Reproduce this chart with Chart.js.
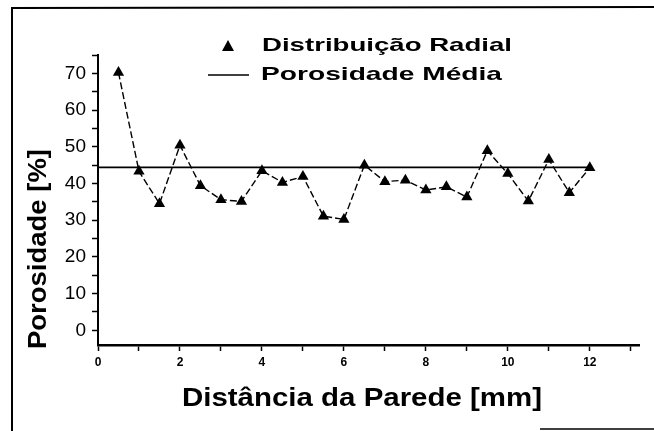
<!DOCTYPE html>
<html>
<head>
<meta charset="utf-8">
<script src="https://cdn.jsdelivr.net/npm/chart.js@4.4.0/dist/chart.umd.min.js"></script>
<style>
  html, body { margin: 0; padding: 0; background: #fff; }
  #wrap { width: 654px; height: 431px; position: relative; }
</style>
</head>
<body>
<div id="wrap"><canvas id="porosidadeChart" width="654" height="431"></canvas></div>
<script>
// distancia da parede [mm]
const distancias = [0.5, 1, 1.5, 2, 2.5, 3, 3.5, 4, 4.5, 5, 5.5, 6,
  6.5, 7, 7.5, 8, 8.5, 9, 9.5, 10, 10.5, 11, 11.5, 12];
// porosidade radial [%]
const porosidade = [70.2, 43.3, 34.5, 50.4, 39.4, 35.6, 35.1, 43.5, 40.3, 41.9, 31.1, 30.2,
  45.0, 40.5, 40.9, 38.2, 39.1, 36.3, 48.9, 42.7, 35.2, 46.5, 37.5, 44.3];
// porosidade media e extensao da linha
const porosidadeMedia = 44.4;
const mediaX = [0, 12];

const labelSerie = "Distribuição Radial";
const labelMedia = "Porosidade Média";
const tituloX = "Distância da Parede [mm]";
const tituloY = "Porosidade [%]";

const FONT = "'Liberation Sans', Arial, sans-serif";
const NARROW = "'Liberation Sans Narrow', 'Liberation Sans', Arial, sans-serif";

// draws text stretched horizontally to a given width
function fitText(ctx, text, x, y, width, font, align) {
  ctx.save();
  ctx.font = font;
  const w = ctx.measureText(text).width;
  const sx = width / w;
  ctx.translate(x, y);
  ctx.scale(sx, 1);
  ctx.textAlign = align || "left";
  ctx.textBaseline = "middle";
  ctx.fillText(text, 0, 0);
  ctx.restore();
}

const extras = {
  id: "extras",
  afterDraw(chart) {
    const ctx = chart.ctx;
    ctx.save();
    ctx.fillStyle = "#000";
    ctx.strokeStyle = "#000";

    // scanned frame
    ctx.lineWidth = 2;
    ctx.beginPath();
    ctx.moveTo(12, 431);
    ctx.lineTo(12, 8);
    ctx.lineTo(654, 7);
    ctx.stroke();
    ctx.lineWidth = 1.5;
    ctx.beginPath();
    ctx.moveTo(540, 429);
    ctx.lineTo(654, 429);
    ctx.stroke();

    // legend
    ctx.beginPath();
    ctx.moveTo(228, 40);
    ctx.lineTo(234, 51);
    ctx.lineTo(222, 51);
    ctx.closePath();
    ctx.fill();
    fitText(ctx, labelSerie, 262, 46, 250, "bold 19px " + FONT);
    ctx.lineWidth = 1.5;
    ctx.beginPath();
    ctx.moveTo(208, 75);
    ctx.lineTo(249, 75);
    ctx.stroke();
    fitText(ctx, labelMedia, 261, 75, 241, "bold 19px " + FONT);

    // axis titles
    fitText(ctx, tituloX, 362, 399, 360, "bold 25px " + FONT, "center");
    ctx.save();
    ctx.translate(39, 249);
    ctx.rotate(-Math.PI / 2);
    fitText(ctx, tituloY, 0, 0, 200, "bold 25px " + FONT, "center");
    ctx.restore();

    ctx.restore();
  },
};

const ctx = document.getElementById("porosidadeChart").getContext("2d");

const chart = new Chart(ctx, {
  type: "scatter",
  data: {
    datasets: [
      {
        label: labelMedia,
        data: mediaX.map((x) => ({ x: x, y: porosidadeMedia })),
        showLine: true,
        borderColor: "#000",
        borderWidth: 1.8,
        pointRadius: 0,
      },
      {
        label: labelSerie,
        data: distancias.map((x, i) => ({ x: x, y: porosidade[i] })),
        showLine: true,
        borderColor: "#000",
        borderWidth: 1.4,
        borderDash: [7, 3],
        pointStyle: "triangle",
        pointRadius: 6.5,
        pointBackgroundColor: "#000",
        pointBorderColor: "#000",
        pointBorderWidth: 0,
      },
    ],
  },
  options: {
    responsive: false,
    animation: false,
    layout: { padding: { left: 0, top: 55, right: 15, bottom: 0 } },
    plugins: {
      legend: { display: false },
      tooltip: { enabled: false },
    },
    scales: {
      x: {
        type: "linear",
        min: 0,
        max: 13.2,
        afterFit: (scale) => {
          scale.height = 86;
        },
        ticks: {
          stepSize: 1,
          includeBounds: false,
          autoSkip: false,
          maxRotation: 0,
          padding: 4,
          color: "#000",
          font: { family: FONT, size: 12, weight: "bold" },
          callback: (v) => (v % 2 === 0 ? String(v) : ""),
        },
        grid: {
          drawOnChartArea: false,
          drawTicks: true,
          tickLength: 6,
          tickColor: "#000",
          tickWidth: 1.5,
        },
        border: { display: true, color: "#000", width: 2.5 },
      },
      y: {
        type: "linear",
        min: -4,
        max: 75,
        afterFit: (scale) => {
          scale.width = 98;
        },
        ticks: {
          stepSize: 5,
          includeBounds: false,
          autoSkip: false,
          padding: 6,
          color: "#000",
          font: { family: NARROW, size: 19 },
          callback: (v) => (v % 10 === 0 ? String(v) : ""),
        },
        grid: {
          drawOnChartArea: false,
          drawTicks: true,
          tickLength: 6,
          tickColor: "#000",
          tickWidth: 1.5,
        },
        border: { display: true, color: "#000", width: 2 },
      },
    },
  },
  plugins: [extras],
});
</script>
</body>
</html>
